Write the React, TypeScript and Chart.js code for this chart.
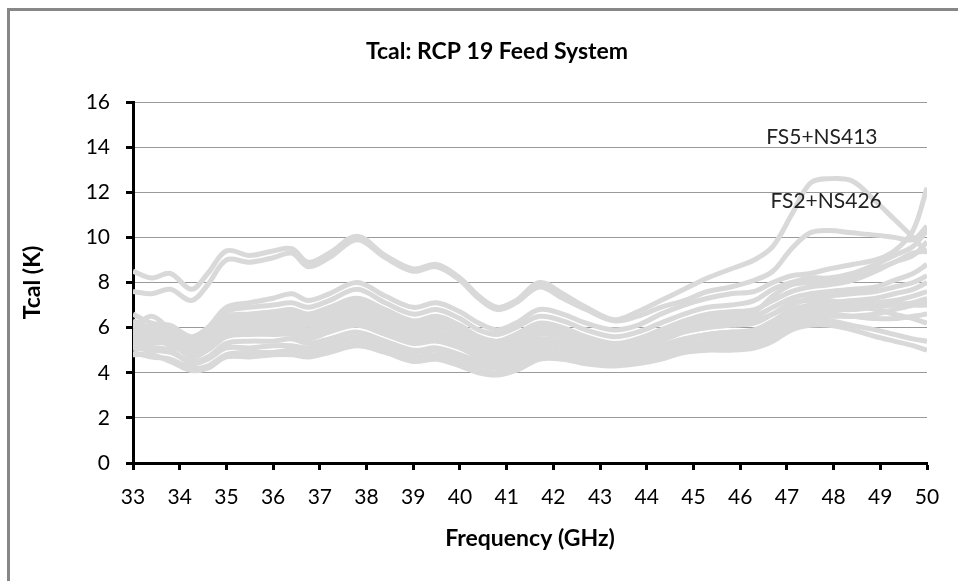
import React, { useEffect, useRef } from "react";
import { Chart, registerables } from "chart.js";

Chart.register(...registerables);

// Frequency sample points (GHz)
const freqs = [33, 33.4, 33.8, 34.25, 34.6, 35, 35.5, 36, 36.4, 36.75, 37.2, 37.8, 38.4, 39, 39.5, 40, 40.4, 40.8, 41.2, 41.7, 42.2, 42.7, 43.3, 43.8, 44.3, 44.8, 45.3, 45.8, 46.3, 46.7, 47.1, 47.5, 47.9, 48.4, 48.9, 49.3, 49.7, 50];

// Tcal (K) per feed system measurement
const fs5ns413 = [8.5, 8.2, 8.4, 7.7, 8.4, 9.4, 9.2, 9.4, 9.5, 8.9, 9.3, 10.05, 9.2, 8.6, 8.8, 8.2, 7.4, 6.9, 7.2, 8.0, 7.5, 6.9, 6.35, 6.7, 7.2, 7.7, 8.2, 8.6, 9.0, 9.6, 11.0, 12.4, 12.6, 12.5, 11.6, 10.8, 10.0, 9.3];
const fs2ns426 = [7.6, 7.5, 7.7, 7.2, 7.9, 9.0, 8.9, 9.1, 9.3, 8.7, 9.1, 9.9, 9.1, 8.5, 8.7, 8.1, 7.3, 6.8, 7.1, 7.8, 7.3, 6.8, 6.3, 6.5, 6.9, 7.2, 7.6, 7.8, 8.1, 8.5, 9.5, 10.2, 10.3, 10.2, 10.1, 10.0, 9.9, 10.5];
const sys01 = [6.6, 6.2, 6.1, 5.6, 6.0, 6.9, 7.1, 7.3, 7.5, 7.2, 7.5, 8.0, 7.4, 6.9, 7.1, 6.7, 6.2, 5.9, 6.2, 6.8, 6.6, 6.2, 5.9, 6.1, 6.6, 7.0, 7.3, 7.5, 7.6, 8.0, 8.3, 8.4, 8.6, 8.8, 9.0, 9.4, 10.3, 12.2];
const sys02 = [6.3, 6.0, 6.0, 5.4, 5.8, 6.7, 6.9, 7.0, 7.1, 6.9, 7.2, 7.7, 7.1, 6.6, 6.8, 6.4, 5.9, 5.7, 6.0, 6.5, 6.3, 5.9, 5.6, 5.8, 6.2, 6.6, 6.9, 7.0, 7.2, 7.7, 8.0, 8.2, 8.2, 8.4, 8.8, 9.2, 9.6, 10.3];
const sys03 = [6.0, 6.5, 5.9, 5.3, 5.7, 6.5, 6.6, 6.7, 6.8, 6.6, 6.9, 7.3, 6.8, 6.3, 6.5, 6.1, 5.6, 5.4, 5.7, 6.2, 6.0, 5.6, 5.3, 5.5, 5.9, 6.3, 6.6, 6.7, 6.8, 7.2, 7.6, 7.8, 7.9, 8.1, 8.5, 8.9, 9.2, 9.8];
const sys04 = [5.9, 5.8, 5.8, 5.2, 5.6, 6.3, 6.4, 6.5, 6.5, 6.3, 6.6, 7.0, 6.6, 6.1, 6.2, 5.9, 5.4, 5.2, 5.5, 5.9, 5.8, 5.4, 5.1, 5.3, 5.6, 6.0, 6.3, 6.4, 6.5, 6.9, 7.3, 7.5, 7.6, 7.7, 7.8, 8.1, 8.4, 8.8];
const sys05 = [5.8, 5.7, 5.6, 5.0, 5.4, 6.1, 6.2, 6.3, 6.3, 6.1, 6.4, 6.7, 6.3, 5.9, 6.0, 5.7, 5.2, 5.0, 5.3, 5.7, 5.6, 5.2, 5.0, 5.1, 5.4, 5.8, 6.0, 6.1, 6.2, 6.6, 7.0, 7.3, 7.4, 7.5, 7.6, 7.8, 8.0, 8.3];
const sys06 = [5.6, 5.6, 5.5, 4.9, 5.3, 6.0, 6.1, 6.1, 6.1, 5.9, 6.2, 6.5, 6.1, 5.7, 5.8, 5.5, 5.1, 4.9, 5.1, 5.5, 5.4, 5.1, 4.9, 5.0, 5.2, 5.5, 5.7, 5.8, 5.9, 6.3, 6.8, 7.0, 7.1, 7.2, 7.3, 7.5, 7.7, 8.0];
const sys07 = [5.5, 5.4, 5.4, 4.8, 5.1, 5.8, 5.9, 5.9, 5.9, 5.7, 6.0, 6.3, 5.9, 5.5, 5.6, 5.3, 4.9, 4.7, 5.0, 5.3, 5.2, 4.9, 4.8, 4.9, 5.1, 5.4, 5.6, 5.7, 5.7, 6.1, 6.6, 6.9, 7.0, 7.0, 7.1, 7.2, 7.4, 7.6];
const sys08 = [5.3, 5.3, 5.3, 4.7, 5.0, 5.6, 5.7, 5.7, 5.7, 5.5, 5.8, 6.1, 5.7, 5.3, 5.4, 5.1, 4.7, 4.6, 4.8, 5.2, 5.1, 4.8, 4.7, 4.8, 5.0, 5.2, 5.4, 5.5, 5.6, 5.9, 6.4, 6.7, 6.8, 6.8, 6.9, 7.0, 7.1, 7.3];
const sys09 = [5.1, 5.0, 4.9, 4.5, 4.7, 5.3, 5.4, 5.4, 5.5, 5.3, 5.5, 5.8, 5.4, 5.0, 5.1, 4.8, 4.5, 4.4, 4.6, 5.0, 4.9, 4.7, 4.6, 4.7, 4.9, 5.1, 5.3, 5.4, 5.4, 5.7, 6.2, 6.5, 6.6, 6.5, 6.4, 6.4, 6.5, 6.6];
const sys10 = [4.9, 4.7, 4.6, 4.2, 4.3, 4.8, 4.9, 4.9, 5.0, 4.9, 5.1, 5.4, 5.1, 4.7, 4.8, 4.5, 4.1, 4.0, 4.3, 4.7, 4.7, 4.5, 4.4, 4.5, 4.7, 5.0, 5.1, 5.2, 5.2, 5.5, 6.0, 6.3, 6.3, 6.1, 5.9, 5.7, 5.5, 5.4];
const sys11 = [4.8, 4.8, 4.5, 4.1, 4.2, 4.7, 4.7, 4.8, 4.8, 4.7, 4.9, 5.2, 4.9, 4.5, 4.6, 4.3, 4.0, 3.9, 4.1, 4.6, 4.6, 4.4, 4.3, 4.4, 4.6, 4.9, 5.0, 5.0, 5.1, 5.4, 5.9, 6.1, 6.1, 5.9, 5.6, 5.4, 5.2, 5.0];
const sys12 = [5.7, 5.9, 5.7, 5.1, 5.5, 6.2, 6.3, 6.4, 6.4, 6.2, 6.5, 6.9, 6.4, 6.0, 6.1, 5.8, 5.3, 5.1, 5.4, 5.8, 5.7, 5.3, 5.0, 5.2, 5.5, 5.9, 6.1, 6.2, 6.3, 6.6, 7.1, 7.2, 7.2, 7.0, 6.8, 6.6, 6.4, 6.2];
const sys13 = [6.1, 6.0, 5.9, 5.3, 5.6, 6.4, 6.5, 6.6, 6.6, 6.4, 6.7, 7.1, 6.7, 6.2, 6.3, 6.0, 5.5, 5.3, 5.6, 6.0, 5.9, 5.5, 5.2, 5.4, 5.8, 6.2, 6.5, 6.6, 6.7, 7.4, 7.9, 8.0, 8.1, 8.3, 8.6, 8.9, 9.3, 9.4];
const sys14 = [5.4, 5.5, 5.2, 4.9, 5.2, 5.9, 6.0, 6.0, 6.0, 5.8, 6.1, 6.4, 6.0, 5.6, 5.7, 5.4, 5.0, 4.8, 5.1, 5.4, 5.3, 5.0, 4.8, 4.9, 5.2, 5.5, 5.7, 5.8, 5.8, 6.2, 6.7, 6.9, 6.9, 6.9, 7.0, 7.1, 7.0, 7.0];
const sys15 = [5.2, 5.1, 5.0, 4.4, 4.6, 5.1, 5.1, 5.2, 5.2, 5.1, 5.3, 5.6, 5.3, 4.9, 5.0, 4.7, 4.3, 4.2, 4.4, 4.8, 4.8, 4.6, 4.5, 4.6, 4.8, 5.0, 5.2, 5.3, 5.3, 5.6, 6.1, 6.4, 6.5, 6.5, 6.6, 6.8, 7.0, 7.2];

const allSeries = [fs5ns413, fs2ns426, sys01, sys02, sys03, sys04, sys05, sys06, sys07, sys08, sys09, sys10, sys11, sys12, sys13, sys14, sys15];

// Annotations (data coordinates)
const noteTexts = ["FS5+NS413", "FS2+NS426"];
const noteFreq = [47.75, 47.84];
const noteTcal = [14.45, 11.6];

const titleText = "Tcal: RCP 19 Feed System";
const xTitle = "Frequency (GHz)";
const yTitle = "Tcal (K)";

const FONT = "Lato, 'Open Sans', sans-serif";

export default function App() {
  const ref = useRef<HTMLCanvasElement | null>(null);

  useEffect(() => {
    if (!ref.current) return;
    const notesPlugin = {
      id: "notes",
      afterDatasetsDraw(chart: any) {
        const { ctx, scales } = chart;
        ctx.save();
        ctx.fillStyle = "#222";
        ctx.font = `21px ${FONT}`;
        ctx.textAlign = "center";
        ctx.textBaseline = "middle";
        noteTexts.forEach((t, i) => {
          ctx.fillText(t, scales.x.getPixelForValue(noteFreq[i]), scales.y.getPixelForValue(noteTcal[i]));
        });
        ctx.font = `bold 23px ${FONT}`;
        ctx.fillStyle = "#000";
        ctx.fillText(titleText, 497, 52);
        ctx.restore();
      },
    };

    const chart = new Chart(ref.current, {
      type: "line",
      data: {
        datasets: allSeries.map((s, i) => ({
          label: "s" + i,
          data: s.map((v, j) => ({ x: freqs[j], y: v })),
          borderColor: "#d9d9d9",
          backgroundColor: "#d9d9d9",
          borderWidth: 5,
          pointRadius: 0,
          tension: 0.35,
          fill: false,
        })),
      },
      options: {
        responsive: false,
        animation: false,
        events: [],
        layout: { padding: { left: 13, right: 31, top: 102, bottom: 29 } },
        plugins: {
          legend: { display: false },
          tooltip: { enabled: false },
          title: { display: false },
        },
        scales: {
          x: {
            type: "linear",
            min: 33,
            max: 50,
            afterFit: (s: any) => { s.height = 89; },
            ticks: { stepSize: 1, color: "#000", padding: 15, font: { family: FONT, size: 21 } },
            grid: { drawOnChartArea: false, tickColor: "#000", tickWidth: 3, tickLength: 7 },
            border: { color: "#000", width: 3 },
            title: { display: true, text: xTitle, color: "#000", padding: { top: 2, bottom: 0 }, font: { family: FONT, size: 23, weight: "bold" } },
          },
          y: {
            min: 0,
            max: 16,
            afterFit: (s: any) => { s.width = 120; },
            ticks: { stepSize: 2, color: "#000", padding: 16, font: { family: FONT, size: 21 } },
            grid: { color: "#9a9a9a", lineWidth: 1, tickColor: "#000", tickWidth: 3, tickLength: 7 },
            border: { color: "#000", width: 3 },
            title: { display: true, text: yTitle, color: "#000", padding: { top: 6, bottom: 0 }, font: { family: FONT, size: 23, weight: "bold" } },
          },
        },
      },
      plugins: [notesPlugin],
    });
    return () => chart.destroy();
  }, []);

  return (
    <div style={{ position: "fixed", left: 0, top: 0, width: 958, height: 581, overflow: "hidden", background: "#fff" }}>
      <div style={{ position: "absolute", left: 7, top: 8, width: 1000, height: 700, border: "3px solid #878787", boxSizing: "border-box" }} />
      <canvas ref={ref} width={958} height={581} style={{ position: "absolute", left: 0, top: 0, width: 958, height: 581 }} />
    </div>
  );
}
